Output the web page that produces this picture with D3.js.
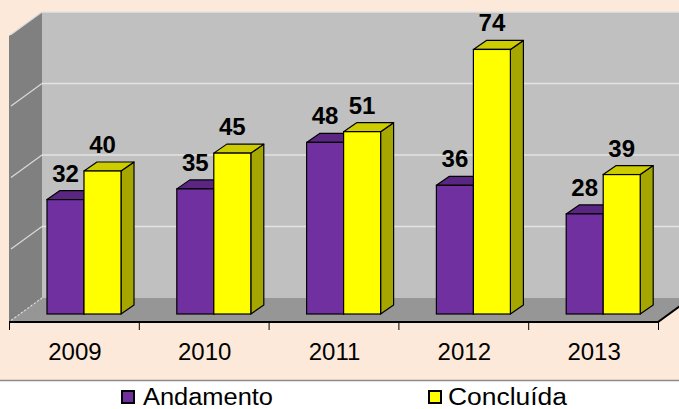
<!DOCTYPE html>
<html><head><meta charset="utf-8">
<script src="https://cdn.jsdelivr.net/npm/d3@7"></script>
<style>html,body{margin:0;padding:0;background:#fff;}svg{display:block;}</style>
</head><body>
<script>
const categories = ["2009","2010","2011","2012","2013"];
const seriesNames = ["Andamento","Concluída"];
const andamento = [32,35,48,36,28];
const concluida = [40,45,51,74,39];
const yTicks = [0,20,40,60,80];

const W = 679, H = 409;
const colors = {
  "Andamento": {front:"#7030A0", top:"#5A2682", side:"#4A1F6B"},
  "Concluída": {front:"#FFFF00", top:"#CCCC00", side:"#A6A600"}
};
const svg = d3.select("body").append("svg").attr("width",W).attr("height",H);

// backgrounds
svg.append("rect").attr("x",0).attr("y",0).attr("width",W).attr("height",380).attr("fill","#FDE9D9");
svg.append("line").attr("x1",0).attr("x2",W).attr("y1",380.5).attr("y2",380.5).attr("stroke","#8C8C8C").attr("stroke-width",1.5);

// 3D geometry
const left = 9, right = 658, floorFront = 322;
const DX = 33, DY = -24;           // full depth
const backBase = floorFront + DY; // 298
const y = d3.scaleLinear().domain([0,80]).range([0, 286]);
const x = d3.scaleBand().domain(categories).range([left,right]);
const xs = d3.scaleBand().domain(seriesNames).range([28, 28+74]);
const barFrontDX = 10, barFrontDY = -8;
const barDX = 13, barDY = -9;

// back wall
svg.append("rect").attr("x",left+DX).attr("y",backBase - y(80)).attr("width",W).attr("height",y(80)).attr("fill","#C0C0C0");
// side wall
svg.append("polygon").attr("points",[[left,floorFront],[left+DX,backBase],[left+DX,backBase-y(80)],[left,floorFront-y(80)]].map(p=>p.join(",")).join(" ")).attr("fill","#808080");
// floor
svg.append("polygon").attr("points",[[left,floorFront],[right,floorFront],[right+DX,backBase],[left+DX,backBase]].map(p=>p.join(",")).join(" ")).attr("fill","#969696");

// gridlines
yTicks.forEach(t=>{
  const yb = backBase - y(t);
  if (t>0) {
    svg.append("line").attr("x1",left+DX).attr("x2",W).attr("y1",yb).attr("y2",yb).attr("stroke","#E3E3E3").attr("stroke-width",1.5);
  }
  svg.append("line").attr("x1",left+DX).attr("y1",yb).attr("x2",left+2).attr("y2",yb - DY - 1.5).attr("stroke","#DADADA").attr("stroke-width",1.2)
     .attr("stroke-dasharray", t===0 ? "2,2" : null);
});

// front floor edge + ticks
svg.append("path").attr("d",`M${left},${floorFront}L${right},${floorFront}L${right+DX},${backBase}`).attr("fill","none").attr("stroke","#000").attr("stroke-width",2);
const tickXs = categories.map(c=>x(c)).concat([right]);
tickXs.forEach(tx=>{
  svg.append("line").attr("x1",tx+0.5).attr("x2",tx+0.5).attr("y1",floorFront).attr("y2",floorFront+8).attr("stroke","#000").attr("stroke-width",1);
});

// bars
const baseY = floorFront + barFrontDY; // 314
const data = {"Andamento":andamento, "Concluída":concluida};
categories.forEach((c,i)=>{
  seriesNames.forEach(s=>{
    const v = data[s][i];
    const x0 = x(c) + barFrontDX + xs(s);
    const w = xs.bandwidth();
    const top = baseY - y(v);
    const g = svg.append("g");
    const col = colors[s];
    const pts = a=>a.map(p=>p.join(",")).join(" ");
    g.append("polygon").attr("points",pts([[x0+w,top],[x0+w+barDX,top+barDY],[x0+w+barDX,baseY+barDY],[x0+w,baseY]]))
      .attr("fill",col.side).attr("stroke","#000").attr("stroke-width",1.2).attr("stroke-linejoin","round");
    g.append("polygon").attr("points",pts([[x0,top],[x0+w,top],[x0+w+barDX,top+barDY],[x0+barDX,top+barDY]]))
      .attr("fill",col.top).attr("stroke","#000").attr("stroke-width",1.2).attr("stroke-linejoin","round");
    g.append("rect").attr("x",x0).attr("y",top).attr("width",w).attr("height",baseY-top)
      .attr("fill",col.front).attr("stroke","#000").attr("stroke-width",1.2);
  });
});
// value labels
categories.forEach((c,i)=>{
  seriesNames.forEach(s=>{
    const v = data[s][i];
    const x0 = x(c) + barFrontDX + xs(s);
    const w = xs.bandwidth();
    const top = baseY - y(v);
    svg.append("text").attr("x",x0+w/2).attr("y",top-18).attr("text-anchor","middle")
      .attr("font-family","Liberation Sans, Arial, sans-serif").attr("font-weight","bold").attr("font-size",24).attr("fill","#000").text(v);
  });
});

// category labels
categories.forEach(c=>{
  svg.append("text").attr("x",x(c)+x.bandwidth()/2+1).attr("y",360).attr("text-anchor","middle")
    .attr("font-family","Liberation Sans, Arial, sans-serif").attr("font-size",24).attr("fill","#000").text(c);
});

// legend
const legendPos = [{sx:121, tx:143, tw:130},{sx:428, tx:448, tw:119}];
seriesNames.forEach((s,i)=>{
  const p = legendPos[i];
  svg.append("rect").attr("x",p.sx+1).attr("y",391).attr("width",12).attr("height",12)
    .attr("fill",colors[s].front).attr("stroke","#000").attr("stroke-width",2);
  svg.append("text").attr("x",p.tx).attr("y",405).attr("font-family","Liberation Sans, Arial, sans-serif")
    .attr("font-size",23).attr("textLength",p.tw).attr("lengthAdjust","spacingAndGlyphs").attr("fill","#000").text(s);
});
</script>
</body></html>
